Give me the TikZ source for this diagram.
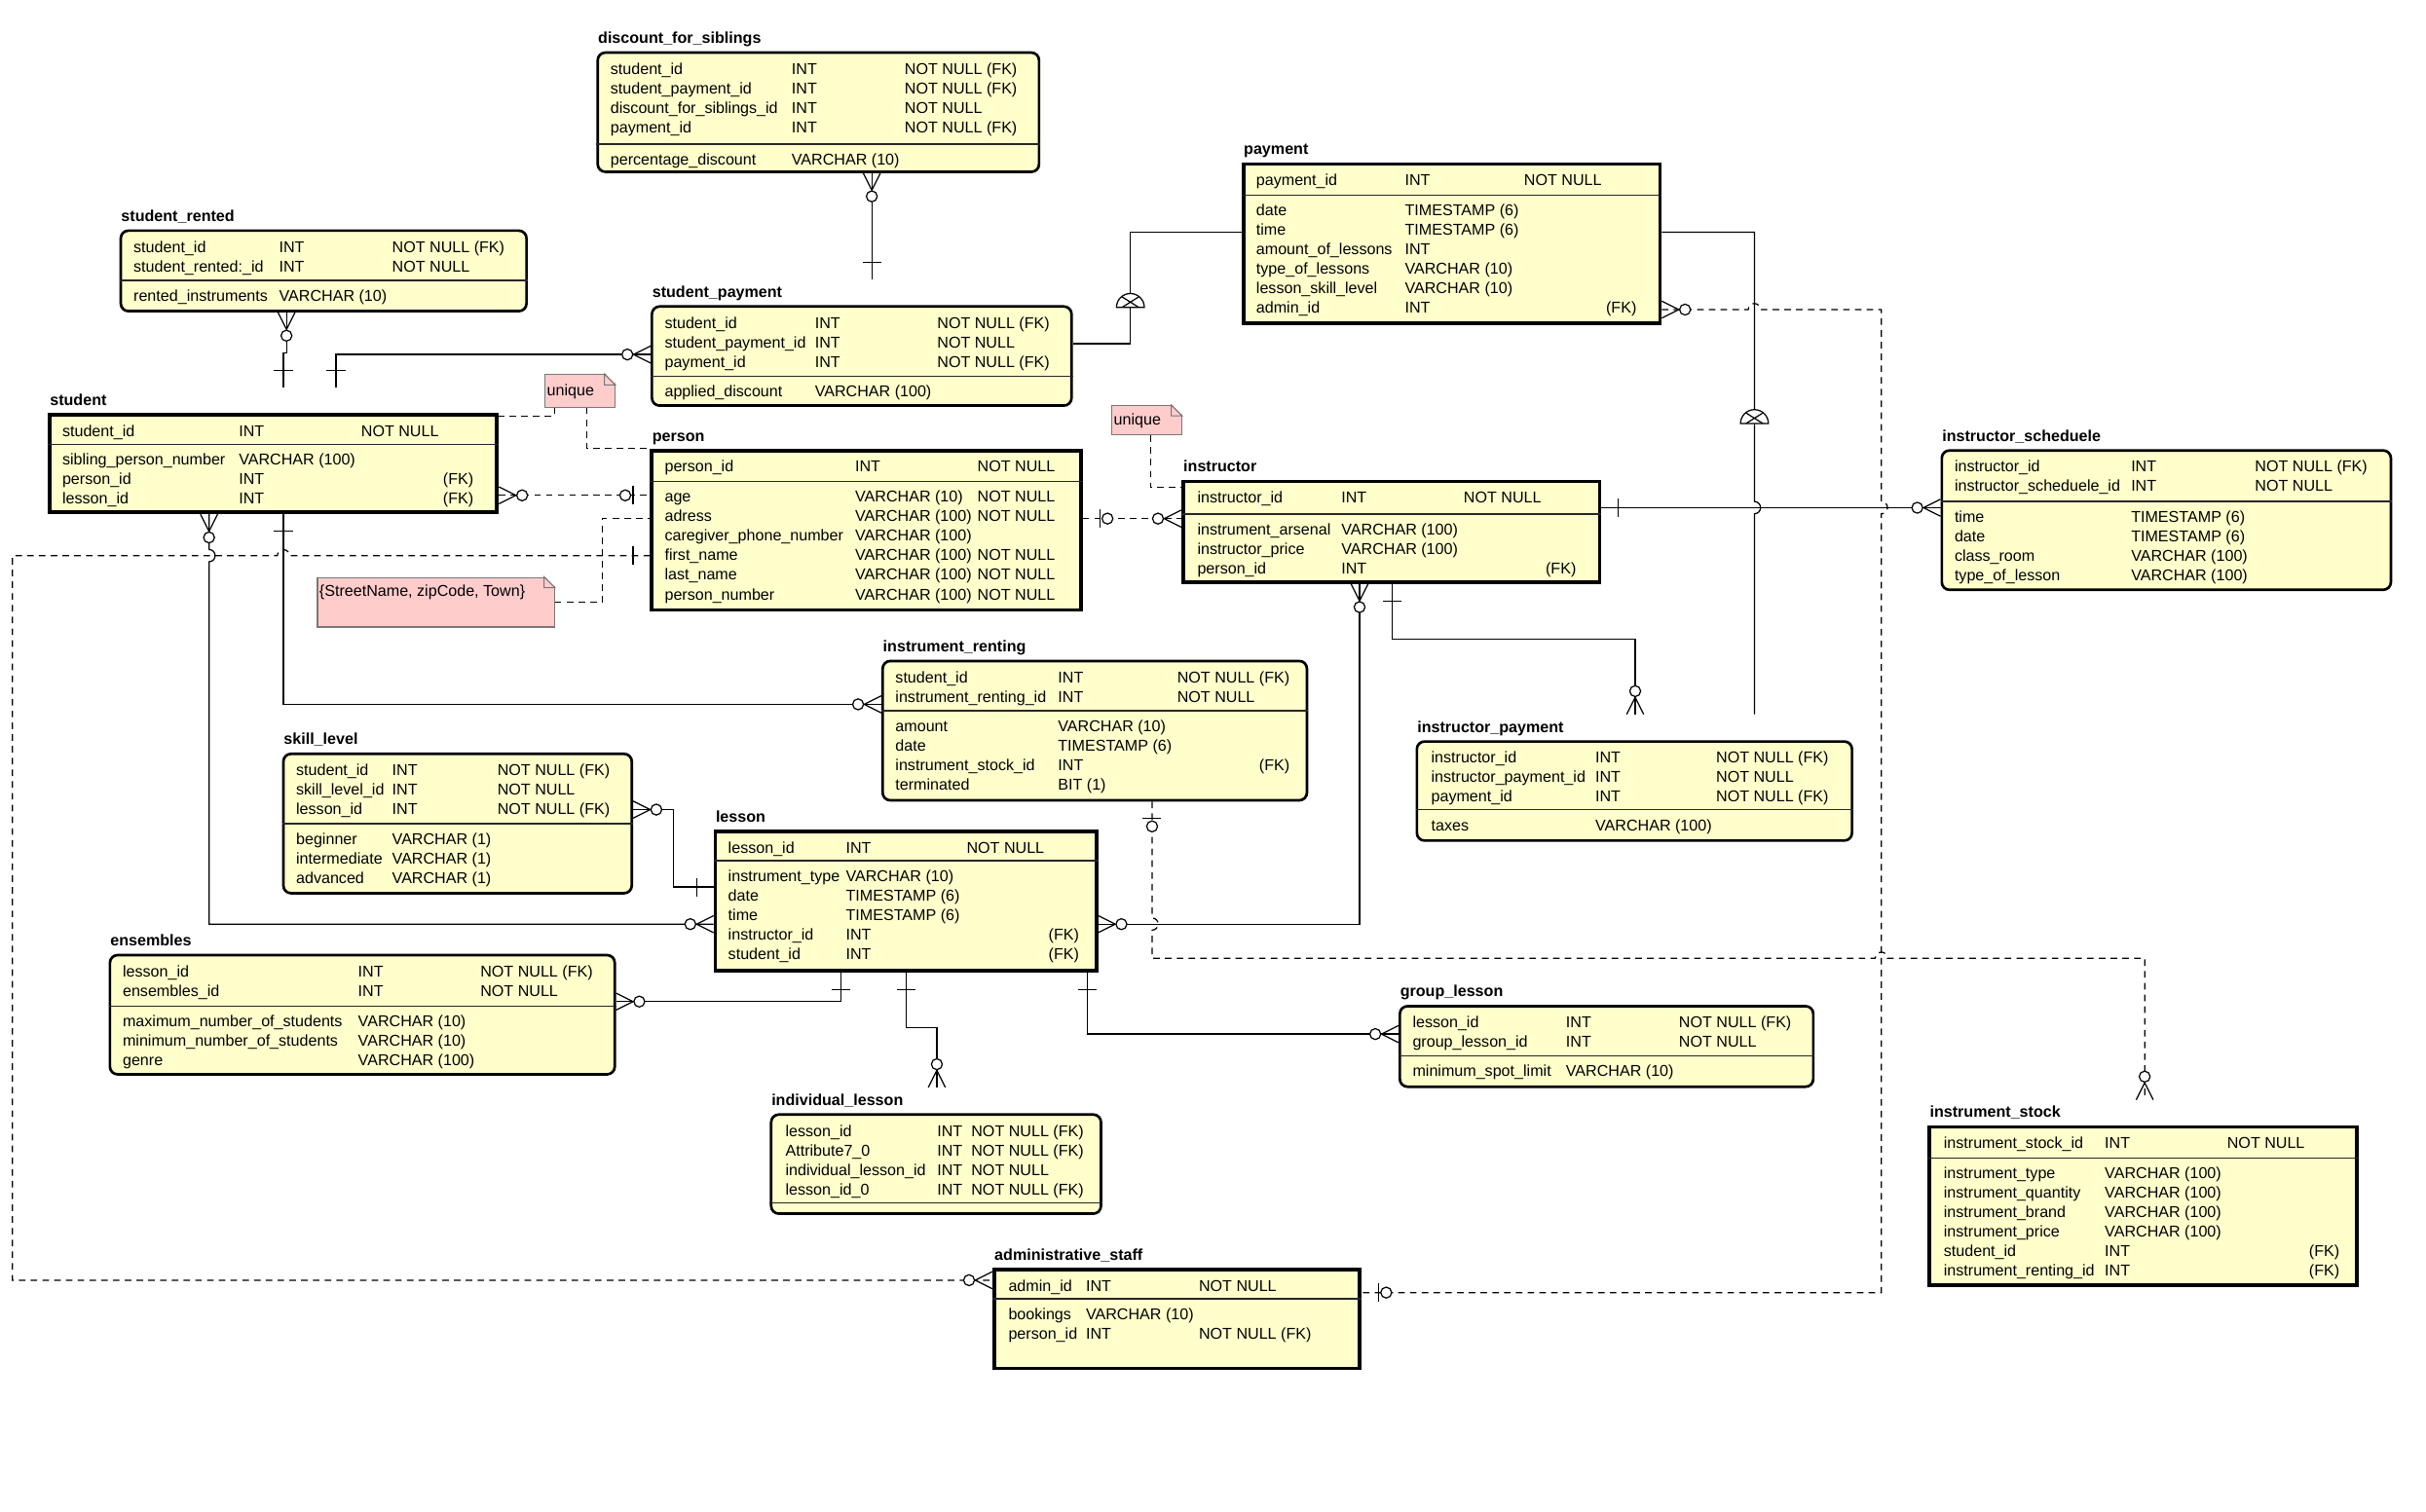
\documentclass[tikz,border=0pt]{standalone}
\usepackage{fontspec}
\setmainfont{Liberation Sans}
\usepackage{array}
\usepackage{xcolor}
\usepackage{tikz}
\usetikzlibrary{calc}
\usetikzlibrary{positioning}
\usetikzlibrary{fit}
\usetikzlibrary{shapes.geometric}
\usetikzlibrary{decorations.markings}

\definecolor{eyellow}{RGB}{255,255,204}
\definecolor{notepink}{RGB}{255,204,204}
\definecolor{notegray}{RGB}{120,120,120}

\newlength{\pxu}
\setlength{\pxu}{0.025cm}
\newcolumntype{E}[2]{@{}w{l}{#1\pxu}@{}w{l}{#2\pxu}@{}l@{}}
\newcommand{\efont}{\fontsize{7.2pt}{8.95pt}\selectfont}
\newcommand{\fkonly}{\phantom{NOT NULL} (FK)}

\tikzstyle{eround} = [draw, line width=1.2pt, fill=eyellow, rounded corners=3.5pt, inner sep=0pt]
\tikzstyle{esharp} = [draw, line width=1.7pt, fill=eyellow, inner sep=0pt]
\tikzstyle{etitle} = [anchor=base west, inner sep=0pt, font=\efont\bfseries, text height=8pt, text depth=0pt]
\tikzstyle{erow} = [anchor=base west, inner sep=0pt, font=\efont]
\tikzstyle{esep} = [line width=0.7pt, black!85]
\tikzstyle{lnk} = [line width=0.55pt]
\tikzstyle{lnkd} = [line width=0.55pt, dash pattern=on 3pt off 2.4pt]
\tikzstyle{notebox} = [draw=notegray, fill=notepink, line width=0.5pt, inner sep=0pt]
\tikzstyle{notebord} = [draw=notegray, line width=0.5pt]
\tikzstyle{dome} = [semicircle, draw, fill=white, line width=0.55pt, inner sep=0pt, minimum width=12.8pt, anchor=south, path picture={\draw ([xshift=2.5pt] path picture bounding box.south west) -- ([xshift=-2.5pt, yshift=-1.5pt] path picture bounding box.north east) ([xshift=-2.5pt] path picture bounding box.south east) -- ([xshift=2.5pt, yshift=-1.5pt] path picture bounding box.north west);}]
\tikzset{
  zmany end/.style={postaction={decorate, decoration={markings, mark=at position 1 with {\draw [solid] (-11,0) -- (0,5.5) (-11,0) -- (0,-5.5); \draw [solid, fill=white] (-15,0) circle [radius=2.5pt];}}}},
  zmany start/.style={postaction={decorate, decoration={markings, mark=at position 0 with {\draw [solid] (11,0) -- (0,5.5) (11,0) -- (0,-5.5); \draw [solid, fill=white] (15,0) circle [radius=2.5pt];}}}},
  one end/.style={postaction={decorate, decoration={markings, mark=at position 1 with {\draw [solid] (-11,-6) -- (-11,6);}}}},
  one start/.style={postaction={decorate, decoration={markings, mark=at position 0 with {\draw [solid] (11,-6) -- (11,6);}}}},
  zone end/.style={postaction={decorate, decoration={markings, mark=at position 1 with {\draw [solid] (-11,-6) -- (-11,6); \draw [solid, fill=white] (-16,0) circle [radius=2.5pt];}}}},
  zone start/.style={postaction={decorate, decoration={markings, mark=at position 0 with {\draw [solid] (11,-6) -- (11,6); \draw [solid, fill=white] (16,0) circle [radius=2.5pt];}}}}
}

\begin{document}
\begin{tikzpicture}[x=0.025cm, y=-0.025cm]
\useasboundingbox (0,0) rectangle (1566.7,976.7);

\node [etitle] (dfs-t) at (386,28) {discount\_for\_siblings};
\node [eround, fit={(386,34) (671,111)}] (dfs) {};
\node [erow] (dfs-k) at (394,48) {\begin{tabular}[t]{E{117}{73}}
student\_id & INT & NOT NULL (FK)\\
student\_payment\_id & INT & NOT NULL (FK)\\
discount\_for\_siblings\_id & INT & NOT NULL\\
payment\_id & INT & NOT NULL (FK)
\end{tabular}};
\draw [esep] (dfs.west |- 0,93) -- (dfs.east |- 0,93);
\node [erow] (dfs-a) at (394,106.5) {\begin{tabular}[t]{E{117}{73}}
percentage\_discount & VARCHAR (10) &
\end{tabular}};

\node [etitle] (sr-t) at (78,143) {student\_rented};
\node [eround, fit={(78,149) (340,201)}] (sr) {};
\node [erow] (sr-k) at (86,163) {\begin{tabular}[t]{E{94}{73}}
student\_id & INT & NOT NULL (FK)\\
student\_rented:\_id & INT & NOT NULL
\end{tabular}};
\draw [esep] (sr.west |- 0,181) -- (sr.east |- 0,181);
\node [erow] (sr-a) at (86,194.5) {\begin{tabular}[t]{E{94}{73}}
rented\_instruments & VARCHAR (10) &
\end{tabular}};

\node [etitle] (sp-t) at (421,192) {student\_payment};
\node [eround, fit={(421,198) (692,262)}] (sp) {};
\node [erow] (sp-k) at (429,212) {\begin{tabular}[t]{E{97}{79}}
student\_id & INT & NOT NULL (FK)\\
student\_payment\_id & INT & NOT NULL\\
payment\_id & INT & NOT NULL (FK)
\end{tabular}};
\draw [esep] (sp.west |- 0,243) -- (sp.east |- 0,243);
\node [erow] (sp-a) at (429,256.5) {\begin{tabular}[t]{E{97}{79}}
applied\_discount & VARCHAR (100) &
\end{tabular}};

\node [etitle] (pay-t) at (803,100) {payment};
\node [esharp, fit={(803,106) (1072,209)}] (pay) {};
\node [erow] (pay-k) at (811,120) {\begin{tabular}[t]{E{96}{77}}
payment\_id & INT & NOT NULL
\end{tabular}};
\draw [esep] (pay.west |- 0,126) -- (pay.east |- 0,126);
\node [erow] (pay-a) at (811,139.5) {\begin{tabular}[t]{E{96}{77}}
date & TIMESTAMP (6) &\\
time & TIMESTAMP (6) &\\
amount\_of\_lessons & INT &\\
type\_of\_lessons & VARCHAR (10) &\\
lesson\_skill\_level & VARCHAR (10) &\\
admin\_id & INT & \fkonly
\end{tabular}};

\node [etitle] (stu-t) at (32,262) {student};
\node [esharp, fit={(32,268) (321,331)}] (stu) {};
\node [erow] (stu-k) at (40,282) {\begin{tabular}[t]{E{114}{79}}
student\_id & INT & NOT NULL
\end{tabular}};
\draw [esep] (stu.west |- 0,287) -- (stu.east |- 0,287);
\node [erow] (stu-a) at (40,300.5) {\begin{tabular}[t]{E{114}{79}}
sibling\_person\_number & VARCHAR (100) &\\
person\_id & INT & \fkonly\\
lesson\_id & INT & \fkonly
\end{tabular}};

\node [etitle] (per-t) at (421,285) {person};
\node [esharp, fit={(421,291) (698,394)}] (per) {};
\node [erow] (per-k) at (429,305) {\begin{tabular}[t]{E{123}{79}}
person\_id & INT & NOT NULL
\end{tabular}};
\draw [esep] (per.west |- 0,311) -- (per.east |- 0,311);
\node [erow] (per-a) at (429,324.5) {\begin{tabular}[t]{E{123}{79}}
age & VARCHAR (10) & NOT NULL\\
adress & VARCHAR (100) & NOT NULL\\
caregiver\_phone\_number & VARCHAR (100) &\\
first\_name & VARCHAR (100) & NOT NULL\\
last\_name & VARCHAR (100) & NOT NULL\\
person\_number & VARCHAR (100) & NOT NULL
\end{tabular}};

\node [etitle] (ins-t) at (764,305) {instructor};
\node [esharp, fit={(764,311) (1033,376)}] (ins) {};
\node [erow] (ins-k) at (773,325) {\begin{tabular}[t]{E{93}{79}}
instructor\_id & INT & NOT NULL
\end{tabular}};
\draw [esep] (ins.west |- 0,332) -- (ins.east |- 0,332);
\node [erow] (ins-a) at (773,345.5) {\begin{tabular}[t]{E{93}{79}}
instrument\_arsenal & VARCHAR (100) &\\
instructor\_price & VARCHAR (100) &\\
person\_id & INT & \fkonly
\end{tabular}};

\node [etitle] (isch-t) at (1254,285) {instructor\_scheduele};
\node [eround, fit={(1254,291) (1544,381)}] (isch) {};
\node [erow] (isch-k) at (1262,305) {\begin{tabular}[t]{E{114}{80}}
instructor\_id & INT & NOT NULL (FK)\\
instructor\_scheduele\_id & INT & NOT NULL
\end{tabular}};
\draw [esep] (isch.west |- 0,324) -- (isch.east |- 0,324);
\node [erow] (isch-a) at (1262,337.5) {\begin{tabular}[t]{E{114}{80}}
time & TIMESTAMP (6) &\\
date & TIMESTAMP (6) &\\
class\_room & VARCHAR (100) &\\
type\_of\_lesson & VARCHAR (100) &
\end{tabular}};

\node [etitle] (ir-t) at (570,421) {instrument\_renting};
\node [eround, fit={(570,427) (844,517)}] (ir) {};
\node [erow] (ir-k) at (578,441) {\begin{tabular}[t]{E{105}{77}}
student\_id & INT & NOT NULL (FK)\\
instrument\_renting\_id & INT & NOT NULL
\end{tabular}};
\draw [esep] (ir.west |- 0,459) -- (ir.east |- 0,459);
\node [erow] (ir-a) at (578,472.5) {\begin{tabular}[t]{E{105}{77}}
amount & VARCHAR (10) &\\
date & TIMESTAMP (6) &\\
instrument\_stock\_id & INT & \fkonly\\
terminated & BIT (1) &
\end{tabular}};

\node [etitle] (sl-t) at (183,481) {skill\_level};
\node [eround, fit={(183,487) (408,577)}] (sl) {};
\node [erow] (sl-k) at (191,501) {\begin{tabular}[t]{E{62}{68}}
student\_id & INT & NOT NULL (FK)\\
skill\_level\_id & INT & NOT NULL\\
lesson\_id & INT & NOT NULL (FK)
\end{tabular}};
\draw [esep] (sl.west |- 0,532) -- (sl.east |- 0,532);
\node [erow] (sl-a) at (191,545.5) {\begin{tabular}[t]{E{62}{68}}
beginner & VARCHAR (1) &\\
intermediate & VARCHAR (1) &\\
advanced & VARCHAR (1) &
\end{tabular}};

\node [etitle] (les-t) at (462,531) {lesson};
\node [esharp, fit={(462,537) (708,627)}] (les) {};
\node [erow] (les-k) at (470,551) {\begin{tabular}[t]{E{76}{78}}
lesson\_id & INT & NOT NULL
\end{tabular}};
\draw [esep] (les.west |- 0,556) -- (les.east |- 0,556);
\node [erow] (les-a) at (470,569.5) {\begin{tabular}[t]{E{76}{78}}
instrument\_type & VARCHAR (10) &\\
date & TIMESTAMP (6) &\\
time & TIMESTAMP (6) &\\
instructor\_id & INT & \fkonly\\
student\_id & INT & \fkonly
\end{tabular}};

\node [etitle] (ens-t) at (71,611) {ensembles};
\node [eround, fit={(71,617) (397,694)}] (ens) {};
\node [erow] (ens-k) at (79,631) {\begin{tabular}[t]{E{152}{79}}
lesson\_id & INT & NOT NULL (FK)\\
ensembles\_id & INT & NOT NULL
\end{tabular}};
\draw [esep] (ens.west |- 0,650) -- (ens.east |- 0,650);
\node [erow] (ens-a) at (79,663.5) {\begin{tabular}[t]{E{152}{79}}
maximum\_number\_of\_students & VARCHAR (10) &\\
minimum\_number\_of\_students & VARCHAR (10) &\\
genre & VARCHAR (100) &
\end{tabular}};

\node [etitle] (gl-t) at (904,644) {group\_lesson};
\node [eround, fit={(904,650) (1171,702)}] (gl) {};
\node [erow] (gl-k) at (912,664) {\begin{tabular}[t]{E{99}{73}}
lesson\_id & INT & NOT NULL (FK)\\
group\_lesson\_id & INT & NOT NULL
\end{tabular}};
\draw [esep] (gl.west |- 0,682) -- (gl.east |- 0,682);
\node [erow] (gl-a) at (912,695.5) {\begin{tabular}[t]{E{99}{73}}
minimum\_spot\_limit & VARCHAR (10) &
\end{tabular}};

\node [etitle] (il-t) at (498,714) {individual\_lesson};
\node [eround, fit={(498,720) (711,784)}] (il) {};
\node [erow] (il-k) at (507,734) {\begin{tabular}[t]{E{98}{22}}
lesson\_id & INT & NOT NULL (FK)\\
Attribute7\_0 & INT & NOT NULL (FK)\\
individual\_lesson\_id & INT & NOT NULL\\
lesson\_id\_0 & INT & NOT NULL (FK)
\end{tabular}};
\draw [esep] (il.west |- 0,777) -- (il.east |- 0,777);

\node [etitle] (ip-t) at (915,473) {instructor\_payment};
\node [eround, fit={(915,479) (1196,543)}] (ip) {};
\node [erow] (ip-k) at (924,493) {\begin{tabular}[t]{E{106}{78}}
instructor\_id & INT & NOT NULL (FK)\\
instructor\_payment\_id & INT & NOT NULL\\
payment\_id & INT & NOT NULL (FK)
\end{tabular}};
\draw [esep] (ip.west |- 0,523) -- (ip.east |- 0,523);
\node [erow] (ip-a) at (924,536.5) {\begin{tabular}[t]{E{106}{78}}
taxes & VARCHAR (100) &
\end{tabular}};

\node [etitle] (ist-t) at (1246,722) {instrument\_stock};
\node [esharp, fit={(1246,728) (1522,830)}] (ist) {};
\node [erow] (ist-k) at (1255,742) {\begin{tabular}[t]{E{104}{79}}
instrument\_stock\_id & INT & NOT NULL
\end{tabular}};
\draw [esep] (ist.west |- 0,748) -- (ist.east |- 0,748);
\node [erow] (ist-a) at (1255,761.5) {\begin{tabular}[t]{E{104}{79}}
instrument\_type & VARCHAR (100) &\\
instrument\_quantity & VARCHAR (100) &\\
instrument\_brand & VARCHAR (100) &\\
instrument\_price & VARCHAR (100) &\\
student\_id & INT & \fkonly\\
instrument\_renting\_id & INT & \fkonly
\end{tabular}};

\node [etitle] (adm-t) at (642,814) {administrative\_staff};
\node [esharp, fit={(642,820) (878,884)}] (adm) {};
\node [erow] (adm-k) at (651,834) {\begin{tabular}[t]{E{50}{73}}
admin\_id & INT & NOT NULL
\end{tabular}};
\draw [esep] (adm.west |- 0,839) -- (adm.east |- 0,839);
\node [erow] (adm-a) at (651,852.5) {\begin{tabular}[t]{E{50}{73}}
bookings & VARCHAR (10) &\\
person\_id & INT & NOT NULL (FK)
\end{tabular}};

\node [notebox, fit={(352,242) (397,263)}] (uniq1) {};
\fill [white] ([shift={(1,-1)}] uniq1.north east) -- ++(-8,0) -- ++(8,8) -- cycle;
\draw [notebord] (uniq1.north east) ++(-7,0) -- ++(7,7) -- ++(-7,0) -- cycle;
\node [erow] (uniq1-x) at (353,255.5) {unique};

\node [notebox, fit={(718,262) (763,281)}] (uniq2) {};
\fill [white] ([shift={(1,-1)}] uniq2.north east) -- ++(-8,0) -- ++(8,8) -- cycle;
\draw [notebord] (uniq2.north east) ++(-7,0) -- ++(7,7) -- ++(-7,0) -- cycle;
\node [erow] (uniq2-x) at (719,274.5) {unique};

\node [notebox, fit={(205,373) (358,405)}] (street) {};
\fill [white] ([shift={(1,-1)}] street.north east) -- ++(-8,0) -- ++(8,8) -- cycle;
\draw [notebord] (street.north east) ++(-7,0) -- ++(7,7) -- ++(-7,0) -- cycle;
\node [erow] (street-x) at (206,385.5) {\{StreetName, zipCode, Town\}};

\draw [lnkd] (uniq1.south -| 358,0) |- (stu.east |- 0,269);
\draw [lnkd] (uniq1.south -| 379,0) |- (per.north west);
\draw [lnkd] (street.east |- 0,389) -| (389,335) -- (per.west |- 0,335);
\draw [lnkd] (uniq2.south -| 743,0) |- (ins.west |- 0,315);

\draw [lnk, zmany start, one end] (dfs.south -| 563,0) -- (sp-t.north -| 563,0);
\draw [lnk, zmany start, one end] (sr.south -| 185,0) |- (183,228) -- (stu-t.north -| 183,0);
\draw [lnk, zmany start, one end] (sp.west |- 0,229) -| (stu-t.north -| 217,0);
\draw [lnk] (sp.east |- 0,222) -| (730,150) -- (pay.west |- 0,150);
\draw [lnk] (pay.east |- 0,150) -| (1133,324) arc [start angle=90, end angle=-90, radius=2.8pt] -- (ip-t.north -| 1133,0);
\draw [lnkd, zmany start, zone end] (pay.east |- 0,200) -- (1129,200) arc [start angle=180, end angle=0, radius=2.8pt] -- (1215,200) -- (1215,324) arc [start angle=90, end angle=-90, radius=2.8pt] -- (1215,835) -- (adm.east |- 0,835);
\draw [lnkd, zmany start, zone end] (stu.east |- 0,320) -- (per.west |- 0,320);
\draw [lnkd, zone start, zmany end] (per.east |- 0,335) -- (ins.west |- 0,335);
\draw [lnkd, one start, zmany end] (per.west |- 0,359) -- (187,359) arc [start angle=0, end angle=180, radius=2.8pt] -- (8,359) |- (adm.west |- 0,827);
\draw [lnk, zmany start, zmany end] (stu.south -| 135,0) -- (135,355) arc [start angle=90, end angle=-90, radius=2.8pt] |- (les.west |- 0,597);
\draw [lnk, one start, zmany end] (stu.south -| 183,0) |- (ir.west |- 0,455);
\draw [lnk, zmany start, one end] (sl.east |- 0,523) -| (435,573) -- (les.west |- 0,573);
\draw [lnk, zmany start, zmany end] (ins.south -| 878,0) |- (les.east |- 0,597);
\draw [lnk, one start, zmany end] (ins.south -| 899,0) |- (1056,413) -- (ip-t.north -| 1056,0);
\draw [lnk, one start, zmany end] (ins.east |- 0,328) -- (isch.west |- 0,328);
\draw [lnkd, zone start, zmany end] (ir.south -| 744,0) -- (744,593) arc [start angle=90, end angle=-90, radius=2.8pt] |- (1211,619) arc [start angle=180, end angle=0, radius=2.8pt] -| (ist-t.north -| 1385,0);
\draw [lnk, one start, zmany end] (les.south -| 543,0) |- (ens.east |- 0,647);
\draw [lnk, one start, zmany end] (les.south -| 585,0) |- (605,664) -- (il-t.north -| 605,0);
\draw [lnk, one start, zmany end] (les.south -| 702,0) |- (gl.west |- 0,668);

\node [dome] (dome1) at (730,199) {};
\node [dome] (dome2) at (1133,274) {};
\end{tikzpicture}
\end{document}
